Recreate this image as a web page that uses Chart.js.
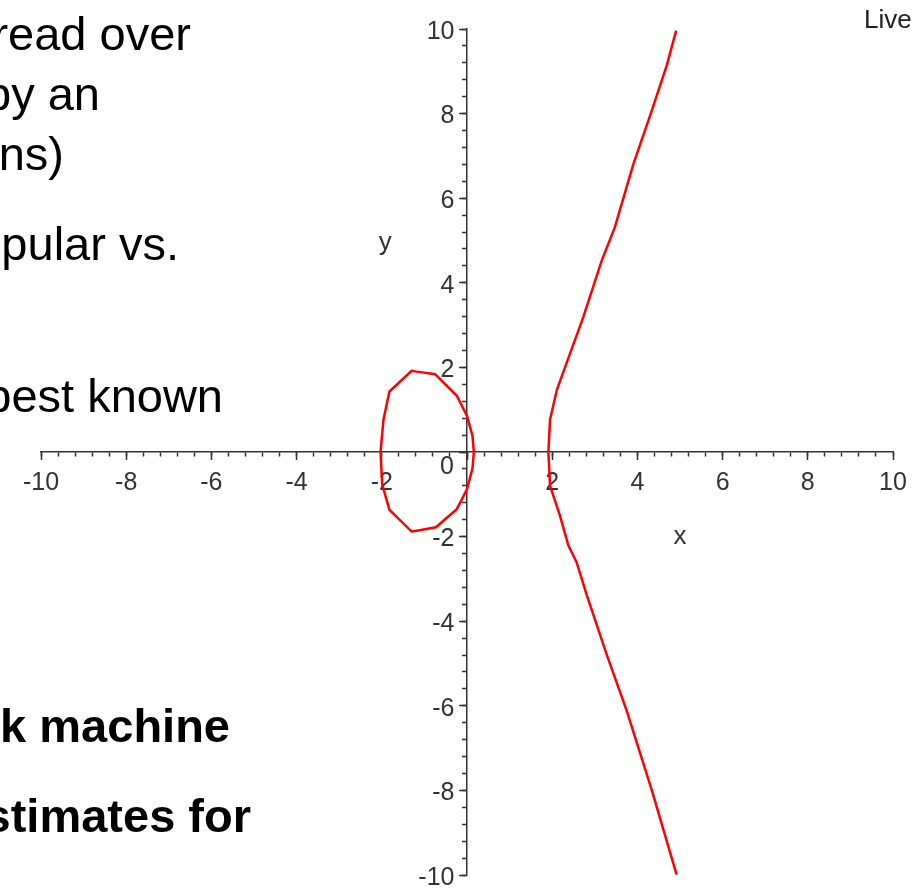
<!DOCTYPE html>
<html lang="en">
<head>
    <meta charset="UTF-8">
    <title>Elliptic curve</title>
    <style>
        body { margin: 0; background: #fff; }
        #myCanvas { display: block; }
    </style>
</head>
<body>

<canvas id="myCanvas" width="918" height="893"></canvas>

<script src="https://cdn.jsdelivr.net/npm/chart.js@4/dist/chart.umd.min.js"></script>
<script>

// curve: the closed oval on the left
var ovalX = [0.16, 0.13, 0.0, -0.24, -0.75, -1.18, -1.30, -1.82, -1.96, -2.03, -1.99, -1.82, -1.30, -1.18, -0.73, -0.24, 0.0, 0.13, 0.16];
var ovalY = [0, 0.38, 0.85, 1.33, 1.84, 1.90, 1.92, 1.43, 0.77, 0, -0.77, -1.37, -1.88, -1.86, -1.78, -1.35, -0.88, -0.38, 0];

// right branch, bottom to top
var branchX = [4.92, 4.34, 3.75, 3.28, 2.81, 2.57, 2.38, 2.18, 1.95, 1.91, 1.95, 2.11, 2.42, 2.73, 3.16, 3.47, 3.90, 4.30, 4.69, 4.91];
var branchY = [-9.99, -8.0, -6.12, -4.79, -3.38, -2.60, -2.21, -1.50, -0.80, 0, 0.77, 1.47, 2.33, 3.19, 4.52, 5.31, 6.79, 7.96, 9.14, 9.96];

var axisMin = -10;
var axisMax = 10;

// slide text that is cut off on the left
var slideLines = [
    {text: 'read over', right: 191, base: 50, bold: false},
    {text: 'by an', right: 100, base: 110, bold: false},
    {text: 'ns)', right: 64, base: 170, bold: false},
    {text: 'pular vs.', right: 179, base: 260, bold: false},
    {text: 'best known', right: 223, base: 412, bold: false},
    {text: 'k machine', right: 230, base: 742, bold: true},
    {text: 'stimates for', right: 251, base: 832, bold: true}
];

function toPoints(xs, ys) {
    return xs.map(function(x, i) { return {x: x, y: ys[i]}; });
}

var labelFont = {family: 'Liberation Sans, Arial, sans-serif', size: 25};
var axisColor = '#333';

function minorScale(axisPos) {
    return {
        type: 'linear', min: axisMin, max: axisMax, position: axisPos,
        border: {display: true, color: axisColor, width: 1.5},
        grid: {display: true, drawOnChartArea: false, drawTicks: true, tickLength: 4, tickColor: axisColor, tickWidth: 1.5},
        ticks: {display: false, stepSize: 0.4, maxTicksLimit: 80, autoSkip: false}
    };
}

function majorScale(axis, axisPos, extra, suffix) {
    var s = {
        axis: axis,
        type: 'linear', min: axisMin, max: axisMax, position: axisPos,
        border: {display: false},
        grid: {display: true, drawOnChartArea: false, drawTicks: true, tickLength: 8, tickColor: axisColor, tickWidth: 1.5},
        ticks: {
            stepSize: 2, autoSkip: false, maxRotation: 0, color: '#333', font: labelFont,
            callback: function(v) { return (Math.abs(v) < 1e-6) ? '' : String(Math.round(v)) + suffix; }
        }
    };
    Object.assign(s.ticks, extra);
    return s;
}

var extrasPlugin = {
    id: 'extras',
    afterDraw: function(chart) {
        var ctx = chart.ctx;
        var sx = chart.scales.x, sy = chart.scales.y;
        var x0 = sx.getPixelForValue(0), y0 = sy.getPixelForValue(0);
        ctx.save();
        ctx.fillStyle = '#333';
        ctx.font = '25px Liberation Sans, Arial, sans-serif';
        ctx.textAlign = 'center';
        ctx.textBaseline = 'middle';
        ctx.fillText('0', x0 - 20, y0 + 15);

        ctx.font = '26px Liberation Sans, Arial, sans-serif';
        ctx.fillText('x', sx.getPixelForValue(5.0), sy.getPixelForValue(-2.0));
        ctx.fillText('y', sx.getPixelForValue(-1.92), sy.getPixelForValue(4.95));
        ctx.textAlign = 'left';
        ctx.fillStyle = '#222';
        ctx.fillText('Live', 864, 21);

        ctx.fillStyle = '#000';
        ctx.textAlign = 'right';
        ctx.textBaseline = 'alphabetic';
        slideLines.forEach(function(l) {
            ctx.font = (l.bold ? 'bold ' : '') + '47px Liberation Sans, Arial, sans-serif';
            ctx.fillText(l.text, l.right, l.base);
        });
        ctx.restore();
    }
};

var canvas = document.getElementById('myCanvas');
var context = canvas.getContext('2d');

var curveChart = new Chart(context, {
    type: 'scatter',
    data: {
        datasets: [
            {
                label: 'oval',
                data: toPoints(ovalX, ovalY),
                showLine: true, borderColor: '#ff0000', borderWidth: 2.5,
                pointRadius: 0, tension: 0, fill: false,
                xAxisID: 'x', yAxisID: 'y'
            },
            {
                label: 'branch',
                data: toPoints(branchX, branchY),
                showLine: true, borderColor: '#ff0000', borderWidth: 2.5,
                pointRadius: 0, tension: 0, fill: false,
                xAxisID: 'x', yAxisID: 'y'
            }
        ]
    },
    options: {
        responsive: false,
        animation: false,
        layout: {padding: {left: 41, right: 25, top: 29, bottom: 11}},
        plugins: {legend: {display: false}, tooltip: {enabled: false}},
        scales: {
            x: minorScale({y: 0}),
            y: minorScale({x: 0}),
            // labels on a centred y axis sit right on the line, so an en space pads them
            xMajor: majorScale('x', {y: 0}, {padding: 8}, ''),
            yMajor: majorScale('y', {x: 0}, {labelOffset: 3}, '\u2002')
        }
    },
    plugins: [extrasPlugin]
});
</script>
</body>
</html>
